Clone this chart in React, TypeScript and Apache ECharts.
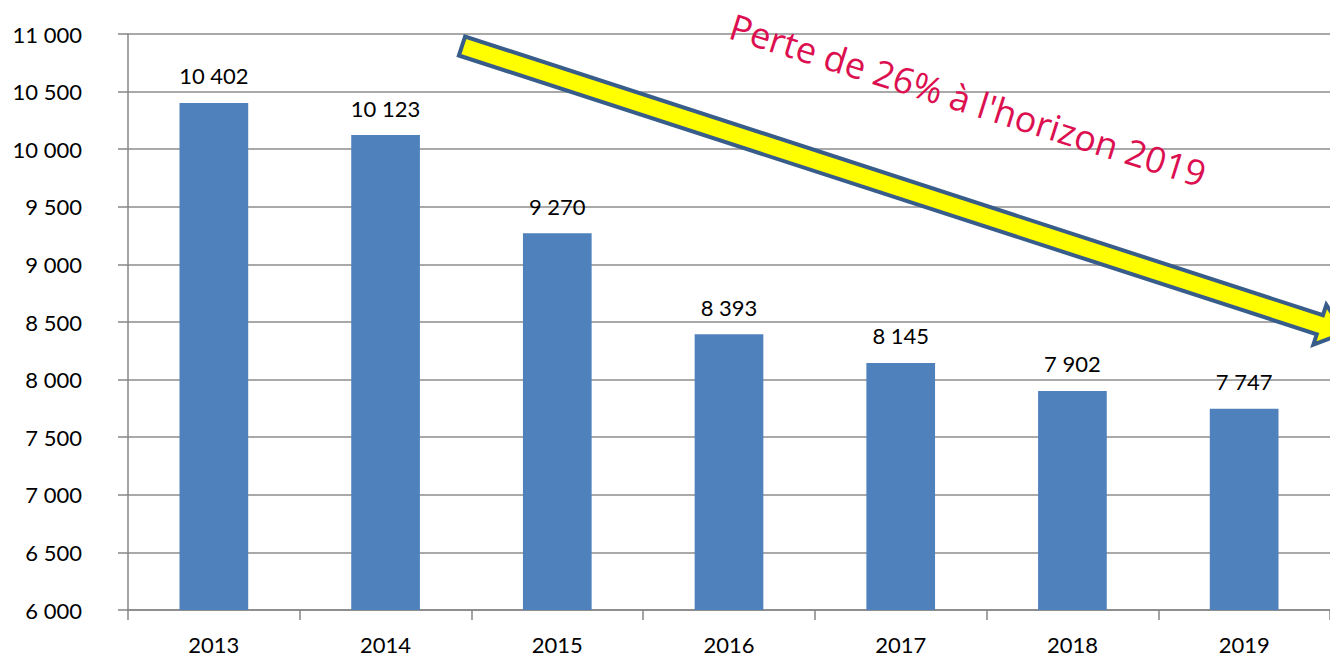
import React, { useEffect, useRef } from "react";
import * as echarts from "echarts";

const categories = ["2013", "2014", "2015", "2016", "2017", "2018", "2019"];
const values = [10402, 10123, 9270, 8393, 8145, 7902, 7747];
const yMin = 6000;
const yMax = 11000;
const yInterval = 500;
const annotation = "Perte de 26% à l'horizon 2019";

const fmt = (v: number) => {
  const s = String(Math.round(v));
  return s.replace(/\B(?=(\d{3})+(?!\d))/g, " ");
};

function arrowPoints() {
  const th = (18 * Math.PI) / 180;
  const u = [Math.cos(th), Math.sin(th)];
  const n = [-Math.sin(th), Math.cos(th)];
  const S = [462, 46];
  const L = 902;
  const w = 10;
  const h = 21;
  const head = 26;
  const B = [S[0] + L * u[0], S[1] + L * u[1]];
  const T = [B[0] + head * u[0], B[1] + head * u[1]];
  const p = (P: number[], k: number) => [P[0] + k * n[0], P[1] + k * n[1]];
  return [p(S, w), p(B, w), p(B, h), T, p(B, -h), p(B, -w), p(S, -w)];
}

export default function App() {
  const ref = useRef<HTMLDivElement>(null);
  useEffect(() => {
    if (!ref.current) return;
    const chart = echarts.init(ref.current, null, { renderer: "svg" });
    const font = "Lato, 'Open Sans', sans-serif";
    chart.setOption({
      animation: false,
      backgroundColor: "#ffffff",
      grid: { left: 128, right: -2, top: 34, bottom: 48, containLabel: false },
      xAxis: {
        type: "category",
        data: categories,
        axisLine: { show: true, lineStyle: { color: "#868686", width: 1.5 } },
        axisTick: { show: true, length: 10, lineStyle: { color: "#868686", width: 1.5 } },
        axisLabel: { color: "#000", fontSize: 22, fontFamily: font, margin: 23 },
        splitLine: { show: false },
      },
      yAxis: {
        type: "value",
        min: yMin,
        max: yMax,
        interval: yInterval,
        axisLine: { show: true, lineStyle: { color: "#868686", width: 1.5 } },
        axisTick: { show: true, inside: false, length: 10, lineStyle: { color: "#868686", width: 1.5 } },
        axisLabel: {
          color: "#000",
          fontSize: 22,
          fontFamily: font,
          margin: 46,
          formatter: (v: number) => fmt(v),
        },
        splitLine: { show: true, lineStyle: { color: "#8c8c8c", width: 1.5 } },
      },
      series: [
        {
          type: "bar",
          data: values,
          barWidth: "40%",
          itemStyle: { color: "#4F81BD" },
          label: {
            show: true,
            position: "top",
            distance: 16,
            color: "#000",
            fontSize: 22,
            fontFamily: font,
            formatter: (p: any) => fmt(p.value),
          },
        },
      ],
      graphic: [
        {
          type: "polygon",
          z: 100,
          shape: { points: arrowPoints() },
          style: { fill: "#FFFF00", stroke: "#385D8A", lineWidth: 4, lineJoin: "miter" },
        },
        {
          type: "text",
          z: 101,
          x: 968,
          y: 100,
          rotation: (-17.5 * Math.PI) / 180,
          style: {
            text: annotation,
            fill: "#DC0F50",
            fontSize: 36,
            fontFamily: "'Open Sans', Lato, sans-serif",
            align: "center",
            verticalAlign: "middle",
          },
        },
      ],
    });
    return () => chart.dispose();
  }, []);
  return (
    <div
      ref={ref}
      style={{ position: "absolute", left: 0, top: 0, width: 1330, height: 658, overflow: "hidden" }}
    />
  );
}
